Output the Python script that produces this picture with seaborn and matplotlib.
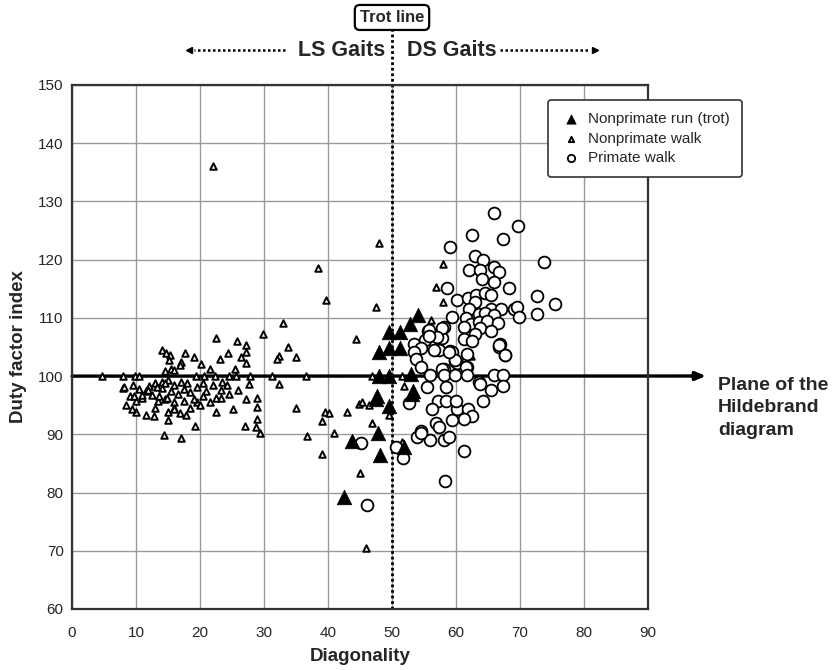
import numpy as np
import pandas as pd
import matplotlib
matplotlib.use("Agg")
import matplotlib.pyplot as plt
import seaborn as sns

# ---- data ----
run_x = [54.1, 52.8, 51.2, 49.5, 48.0, 49.5, 51.2, 48.0, 49.5, 52.9, 53.3, 53.2, 47.7, 47.5, 49.5, 47.8, 43.8, 48.2, 42.5, 51.9]
run_y = [110.5, 108.9, 107.6, 107.6, 104.1, 104.8, 104.9, 100.1, 100.1, 100.4, 97.4, 96.9, 96.5, 96.0, 94.9, 90.3, 88.9, 86.4, 79.2, 87.9]

walk_x = [4.7, 8.0, 9.8, 10.5, 19.4, 20.6, 22.3, 24.6, 25.6, 27.8, 31.2, 36.6, 46.9, 49.5, 51.6, 14.6, 15.4, 16.0,
          14.1, 14.7, 15.3, 15.1, 17.6, 17.0, 16.8, 19.0, 20.2, 22.5, 25.8, 24.3, 23.1, 21.6, 27.2, 27.2, 26.4, 27.2, 25.5,
          29.9, 33.0, 33.8, 32.4, 32.0, 35.0, 22.0, 38.4, 39.7, 47.9, 47.5, 44.3, 58.0, 56.9, 58.0, 56.1, 62.3,
          32.3, 27.6, 26.0, 23.4, 24.2, 23.3, 24.6, 23.3, 27.2, 28.9, 28.9, 25.1, 22.5, 28.9, 27.1, 28.7, 29.3, 19.2,
          17.1, 14.4, 35.0, 36.7, 39.6, 39.0, 39.0, 51.9, 44.9, 45.3, 46.4, 43.0, 40.2, 41.0, 46.8, 49.5, 49.5, 45.0,
          46.0, 51.6, 43.8,
          14.0, 15.0, 16.0, 17.0, 18.0, 15.5, 16.5, 17.5, 18.5, 19.5, 20.5, 21.0, 14.0, 13.0, 12.0, 11.5, 10.5, 9.5,
          9.0, 10.0, 11.0, 12.5, 13.5, 14.5, 16.0, 17.5, 18.5, 19.5, 20.5, 21.5, 22.5, 16.0, 15.0, 13.0, 11.5, 10.0,
          9.3, 8.5, 12.8, 17.8, 15.0, 20.0, 8.0, 19.0, 22.0, 16.9, 15.9, 8.1, 9.7, 11.0, 11.9, 13.3, 13.6, 14.8, 14.6]
walk_y = [100.0, 100.0, 100.0, 100.0, 100.0, 100.0, 100.0, 100.0, 100.0, 100.0, 100.0, 100.0, 100.0, 100.0, 100.0, 100.9, 101.2, 101.0,
          104.5, 104.0, 103.6, 102.7, 104.0, 102.5, 101.9, 103.3, 102.1, 106.6, 106.1, 104.0, 103.0, 101.3, 105.3, 104.1, 103.2, 102.3, 101.3,
          107.2, 109.2, 105.0, 103.4, 103.0, 103.2, 136.1, 118.6, 113.0, 122.8, 111.8, 106.3, 119.3, 115.3, 112.7, 109.6, 103.5,
          98.6, 98.7, 97.6, 99.0, 98.5, 97.7, 97.0, 96.3, 96.0, 96.2, 94.7, 94.4, 93.9, 92.7, 91.5, 91.3, 90.3, 91.5,
          89.3, 89.8, 94.6, 89.7, 93.9, 92.3, 86.7, 98.3, 95.2, 95.5, 95.1, 93.9, 93.7, 90.3, 91.9, 94.7, 93.3, 83.4,
          70.4, 88.6, 89.2,
          99.0, 99.3, 98.5, 99.0, 98.8, 97.5, 97.0, 97.8, 97.3, 98.2, 98.8, 97.5, 98.0, 98.8, 98.3, 97.5, 97.8, 98.5,
          96.5, 95.8, 96.2, 96.8, 95.8, 96.0, 95.5, 95.8, 94.5, 95.5, 96.5, 95.5, 96.2, 94.5, 93.8, 94.5, 93.3, 93.8,
          94.3, 95.0, 93.2, 93.3, 92.5, 95.0, 98.0, 96.0, 98.5, 93.7, 94.4, 98.1, 96.6, 96.7, 97.6, 98.1, 96.5, 96.2, 98.9]

prim_x = [66.0, 69.7, 62.5, 67.3, 59.0, 62.9, 64.2, 73.8, 62.1, 63.8, 66.0, 66.7, 64.0, 66.0, 68.3, 58.6, 72.7, 75.5,
          60.2, 61.9, 63.1, 64.6, 65.4, 62.9, 62.0, 65.4, 67.1, 69.0, 69.5, 69.9, 72.6, 59.4, 63.6, 64.6, 65.9, 61.5,
          62.4, 63.6, 64.8, 66.6, 61.2, 63.8, 65.4, 58.1, 57.8, 62.9, 61.2, 62.5, 66.8, 66.7, 67.7, 57.3, 59.0, 61.7,
          59.8, 60.2, 61.7, 58.1,
          55.7, 57.8, 57.1, 55.8, 55.2, 53.4, 54.6, 53.4, 53.7, 54.5, 57.8, 59.4, 59.9, 56.5, 58.9, 61.6, 66.7, 67.6, 55.8,
          56.0, 58.1, 59.9, 61.7, 66.0, 67.3,
          55.5, 58.4, 63.6, 63.8, 65.4, 67.3, 52.6, 57.2, 58.4, 56.2, 60.1, 61.9, 64.2, 62.5, 61.3, 59.4, 56.9, 57.3,
          54.6, 53.9, 56.0, 58.1, 58.9, 61.2, 58.3, 51.7, 45.1, 46.1, 50.7, 54.5, 60.0]
prim_y = [128.0, 125.7, 124.2, 123.5, 122.1, 120.6, 120.0, 119.6, 118.3, 118.3, 118.7, 117.8, 116.6, 116.2, 115.1, 115.1, 113.7, 112.3,
          113.1, 113.5, 113.9, 114.2, 113.9, 112.8, 111.5, 111.6, 111.6, 111.6, 111.9, 110.1, 110.7, 110.1, 110.7, 110.9, 110.5, 109.9,
          109.0, 109.3, 109.4, 109.2, 108.5, 108.3, 107.8, 108.5, 106.6, 107.2, 106.3, 106.1, 105.6, 105.0, 103.6, 104.5, 104.3, 103.8,
          102.6, 102.3, 101.6, 101.3,
          107.8, 108.2, 106.8, 108.0, 106.2, 105.6, 104.8, 104.2, 103.0, 101.6, 101.3, 104.2, 102.7, 104.5, 104.1, 101.6, 105.3, 103.6, 106.9,
          100.2, 100.2, 100.2, 100.2, 100.2, 100.2,
          98.2, 98.2, 99.0, 98.7, 97.6, 98.3, 95.4, 95.7, 95.7, 94.3, 94.3, 94.3, 95.8, 93.2, 92.7, 92.4, 91.9, 91.3,
          90.6, 89.5, 89.1, 89.1, 89.6, 87.2, 82.0, 86.0, 88.5, 77.8, 87.9, 90.3, 95.7]

x_ticks = [0, 10, 20, 30, 40, 50, 60, 70, 80, 90]
y_ticks = [60, 70, 80, 90, 100, 110, 120, 130, 140, 150]

sns.set_style("white")
plt.rcParams['font.family'] = ['Liberation Sans', 'DejaVu Sans']

fig = plt.figure(figsize=(8.4, 6.7), dpi=100)
ax = fig.add_axes([72/840, 1-609/670, (648-72)/840, (609-85)/670])
ax.set_xlim(0, 90)
ax.set_ylim(60, 150)
ax.set_xticks(x_ticks)
ax.set_yticks(y_ticks)
ax.grid(True, color='#9a9a9a', lw=1.0, zorder=0)
ax.set_axisbelow(True)
for s in ax.spines.values():
    s.set_color('#333333')
    s.set_linewidth(1.6)
ax.tick_params(length=0, labelsize=11, pad=6)
ax.tick_params(axis='x', pad=12)

# horizontal plane line with arrow
ax.annotate('', xy=(706/840, 1-376/670), xycoords='figure fraction',
            xytext=(0, 100), textcoords='data',
            arrowprops=dict(arrowstyle='-|>,head_length=0.6,head_width=0.25', lw=2.4, color='black',
                            shrinkA=0, shrinkB=0),
            annotation_clip=False, zorder=2)

# trot line
ax.plot([50, 50], [60, 160], ls=(0, (1, 1)), lw=2.0, color='black', clip_on=False, zorder=2)
ax.text(50, 161.6, 'Trot line', ha='center', va='center', fontsize=12, fontweight='bold',
        bbox=dict(boxstyle='round,pad=0.3,rounding_size=0.3', fc='white', ec='black', lw=1.6), clip_on=False)

# LS / DS gaits
ax.text(49.0, 156.0, 'LS Gaits', ha='right', va='center', fontsize=15.5, fontweight='bold', clip_on=False)
ax.text(52.3, 156.0, 'DS Gaits', ha='left', va='center', fontsize=15.5, fontweight='bold', clip_on=False)
ax.plot([33.3, 19.0], [156, 156], ls=(0, (1, 1)), lw=1.8, color='black', clip_on=False)
ax.plot([18.3], [156], marker='<', ms=5, color='black', clip_on=False)
ax.plot([66.8, 81.0], [156, 156], ls=(0, (1, 1)), lw=1.8, color='black', clip_on=False)
ax.plot([81.7], [156], marker='>', ms=5, color='black', clip_on=False)

df_walk = pd.DataFrame({'x': walk_x, 'y': walk_y})
df_prim = pd.DataFrame({'x': prim_x, 'y': prim_y})
df_run = pd.DataFrame({'x': run_x, 'y': run_y})

sns.scatterplot(data=df_walk, x='x', y='y', marker='^', s=22, facecolor='white', edgecolor='black',
                linewidth=1.4, ax=ax, zorder=3, label='Nonprimate walk')
sns.scatterplot(data=df_prim, x='x', y='y', marker='o', s=72, facecolor='white', edgecolor='black',
                linewidth=1.3, ax=ax, zorder=4, label='Primate walk')
sns.scatterplot(data=df_run, x='x', y='y', marker='^', s=110, color='black', edgecolor='black',
                linewidth=0.5, ax=ax, zorder=5, label='Nonprimate run (trot)')

handles, labels = ax.get_legend_handles_labels()
order = [labels.index('Nonprimate run (trot)'), labels.index('Nonprimate walk'), labels.index('Primate walk')]
leg = ax.legend([handles[i] for i in order], [labels[i] for i in order],
                loc='upper left', bbox_to_anchor=(548/840, 1-100/670), bbox_transform=fig.transFigure,
                borderaxespad=0, fontsize=11, frameon=True, fancybox=True, edgecolor='#333333', framealpha=1,
                handletextpad=0.4, borderpad=0.8, labelspacing=0.35, handlelength=1.4)
leg.get_frame().set_linewidth(1.2)
leg.set_zorder(10)
for h, sz in zip(leg.legend_handles, [45, 14, 28]):
    h.set_sizes([sz])

ax.set_xlabel('Diagonality', fontsize=13.5, fontweight='bold', labelpad=6)
ax.set_ylabel('Duty factor index', fontsize=13.5, fontweight='bold', labelpad=8)

fig.text(718/840, 1-408/670, 'Plane of the\nHildebrand\ndiagram', ha='left', va='center',
         fontsize=14, fontweight='bold', linespacing=1.42)

fig.savefig('out.png', dpi=100)
